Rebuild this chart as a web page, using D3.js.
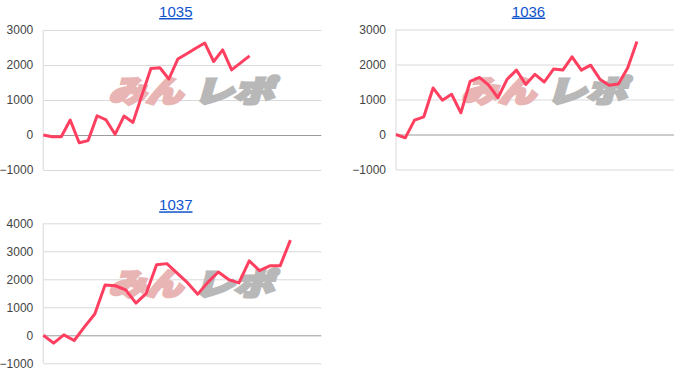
<!DOCTYPE html>
<html>
<head>
<meta charset="utf-8">
<script src="https://cdn.jsdelivr.net/npm/d3@7"></script>
<style>
  body { margin: 0; background: #fff; }
  svg { display: block; font-family: "Liberation Sans", Arial, sans-serif; }
</style>
</head>
<body>
<svg id="chart" width="700" height="388"></svg>
<script>
(function () {

  // data
  const titles = ["1035", "1036", "1037"];
  const values1035 = [0, -50, -50, 430, -220, -160, 550, 430, 20, 540, 360, 1140,
    1900, 1920, 1600, 2170, 2320, 2480, 2630, 2100, 2430, 1860, 2060, 2260];
  const values1036 = [0, -95, 410, 505, 1330, 980, 1150, 620, 1520, 1630, 1410, 1050,
    1580, 1840, 1430, 1720, 1500, 1870, 1840, 2220, 1840, 1980, 1580, 1410, 1440, 1900, 2660];
  const values1037 = [0, -280, 15, -185, 300, 760, 1800, 1770, 1620, 1150, 1500, 2520,
    2560, 2220, 1880, 1470, 1900, 2260, 1990, 1870, 2660, 2310, 2480, 2480, 3400];
  const xMaxes = [31, 30, 27];
  const ticks3000 = [-1000, 0, 1000, 2000, 3000];
  const ticks4000 = [-1000, 0, 1000, 2000, 3000, 4000];

  const series = [values1035, values1036, values1037];
  const tickSets = [ticks3000, ticks3000, ticks4000];

  // layout
  const origins = [[43.3, 30], [396, 29.5], [43.3, 223.3]];
  const plotW = 278;
  const plotH = 140;
  const lineColor = "#ff3f60";

  const svg = d3.select("#chart");

  titles.forEach(function (title, i) {
    const g = svg.append("g")
      .attr("transform", "translate(" + origins[i][0] + "," + origins[i][1] + ")");

    const ticks = tickSets[i];
    const x = d3.scaleLinear().domain([0, xMaxes[i]]).range([0, plotW]);
    const y = d3.scaleLinear().domain(d3.extent(ticks)).range([plotH, 0]);

    // gridlines + labels
    const axis = g.append("g")
      .call(d3.axisLeft(y).tickValues(ticks).tickSize(-plotW).tickPadding(10).tickFormat(d3.format("d")));
    axis.select(".domain").remove();
    axis.selectAll(".tick line")
      .attr("stroke", function (d) { return d === 0 ? "#9a9a9a" : "#d9d9d9"; })
      .attr("stroke-width", 1);
    axis.selectAll(".tick text")
      .attr("fill", "#444")
      .style("font-size", "12px")
      .style("font-family", "'Liberation Sans', Arial, sans-serif");

    // left edge
    g.append("line")
      .attr("x1", 0).attr("x2", 0)
      .attr("y1", 0).attr("y2", plotH)
      .attr("stroke", "#e4e4e4")
      .attr("stroke-width", 1.5);

    // title
    g.append("text")
      .attr("x", plotW / 2 - 6.5)
      .attr("y", -13)
      .attr("text-anchor", "middle")
      .attr("fill", "#1155cc")
      .style("font-size", "15px")
      .style("text-decoration", "underline")
      .text(title);

    // watermark
    const wm = g.append("g")
      .attr("transform", "translate(" + (plotW / 2 + 12) + "," + (plotH / 2 - 10) + ") skewX(-16)")
      .style("font-family", "'Noto Sans CJK JP', sans-serif")
      .style("font-weight", 900)
      .style("font-size", "30px")
      .style("paint-order", "stroke")
      .attr("stroke-width", 3)
      .attr("stroke-linejoin", "miter");
    wm.append("text")
      .attr("x", -82)
      .attr("y", 12)
      .attr("textLength", 74)
      .attr("lengthAdjust", "spacingAndGlyphs")
      .attr("fill", "#e8b4b4")
      .attr("stroke", "#e8b4b4")
      .text("みん");
    wm.append("text")
      .attr("x", 3)
      .attr("y", 12)
      .attr("textLength", 80)
      .attr("lengthAdjust", "spacingAndGlyphs")
      .attr("fill", "#b8b8b8")
      .attr("stroke", "#b8b8b8")
      .text("レポ");

    // line
    const line = d3.line()
      .x(function (d, j) { return x(j); })
      .y(function (d) { return y(d); });
    g.append("path")
      .datum(series[i])
      .attr("d", line)
      .attr("fill", "none")
      .attr("stroke", lineColor)
      .attr("stroke-width", 3)
      .attr("stroke-linejoin", "round");
  });

})();
</script>
</body>
</html>
